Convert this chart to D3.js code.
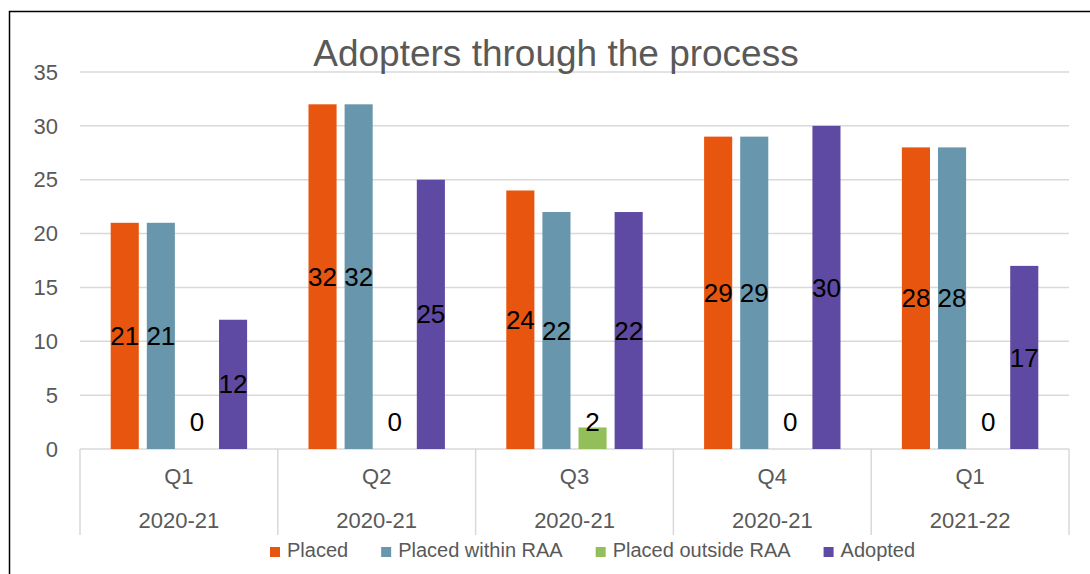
<!DOCTYPE html>
<html>
<head>
<meta charset="utf-8">
<script src="https://cdn.jsdelivr.net/npm/d3@7"></script>
<style>
    body { margin: 0; background: #fff; }
    text { font-family: "Liberation Sans", Arial, sans-serif; }
</style>
</head>
<body>
<svg id="Chart"></svg>
<script>
    // chart data
    let quarters = ["Q1", "Q2", "Q3", "Q4", "Q1"];
    let years = ["2020-21", "2020-21", "2020-21", "2020-21", "2021-22"];
    let seriesNames = ["Placed", "Placed within RAA", "Placed outside RAA", "Adopted"];
    let placed = [21, 32, 24, 29, 28];
    let placedWithin = [21, 32, 22, 29, 28];
    let placedOutside = [0, 0, 2, 0, 0];
    let adopted = [12, 25, 22, 30, 17];
    let yTicks = [0, 5, 10, 15, 20, 25, 30, 35];
    let colors = ["#E8550F", "#6896AC", "#93BF5A", "#5F4AA3"];

    function getConfig() {
        let width = 1090;
        let height = 574;
        let margin = {top: 72, bottom: 125, left: 80, right: 21};
        let container = d3.select("#Chart")
            .attr("width", width)
            .attr("height", height)
        return {width, height, margin, container}
    }

    function getScales(config) {
        let {width, height, margin} = config;
        let x0 = d3.scaleBand()
            .domain(d3.range(quarters.length))
            .range([margin.left, width - margin.right])
            .padding(0)
        let x1 = d3.scaleBand()
            .domain(seriesNames)
            .range([0, x0.bandwidth()])
            .paddingInner(0.222)
            .paddingOuter(0.85)
        let y = d3.scaleLinear()
            .domain([0, 35])
            .range([height - margin.bottom, margin.top])
        return {x0, x1, y}
    }

    function drawFrame(config) {
        config.container.append("rect")
            .attr("x", 9.5).attr("y", 11.5)
            .attr("width", 1200).attr("height", 700)
            .attr("fill", "none")
            .attr("stroke", "#000")
            .attr("stroke-width", 1.5)
    }

    function drawAxes(scales, config) {
        let {x0, y} = scales;
        let {container} = config;
        let [left, right] = x0.range();

        // horizontal gridlines (0 line doubles as the axis)
        container.append("g")
            .selectAll("line")
            .data(yTicks)
            .enter()
            .append("line")
            .attr("x1", left).attr("x2", right)
            .attr("y1", d => y(d)).attr("y2", d => y(d))
            .attr("stroke", "#D9D9D9")
            .attr("stroke-width", 1.5)

        container.append("g")
            .selectAll("text")
            .data(yTicks)
            .enter()
            .append("text")
            .attr("x", 58)
            .attr("y", d => y(d))
            .attr("dy", "0.35em")
            .attr("text-anchor", "end")
            .attr("fill", "#595959")
            .style("font-size", "22px")
            .text(d => d)

        // category separators
        let edges = d3.range(quarters.length + 1).map(i => left + i * x0.step());
        container.append("g")
            .selectAll("line")
            .data(edges)
            .enter()
            .append("line")
            .attr("x1", d => d).attr("x2", d => d)
            .attr("y1", y(0)).attr("y2", y(0) + 86)
            .attr("stroke", "#D9D9D9")
            .attr("stroke-width", 1.5)

        let cats = container.append("g")
            .selectAll("g")
            .data(d3.range(quarters.length))
            .enter()
            .append("g")
        cats.append("text")
            .attr("x", i => x0(i) + x0.bandwidth() / 2)
            .attr("y", y(0) + 35)
            .attr("text-anchor", "middle")
            .attr("fill", "#595959")
            .style("font-size", "22px")
            .text(i => quarters[i])
        cats.append("text")
            .attr("x", i => x0(i) + x0.bandwidth() / 2)
            .attr("y", y(0) + 79)
            .attr("text-anchor", "middle")
            .attr("fill", "#595959")
            .style("font-size", "22px")
            .text(i => years[i])
    }

    function drawBars(scales, config) {
        let {x0, x1, y} = scales;
        let {container} = config;
        let values = [placed, placedWithin, placedOutside, adopted];
        let rows = [];
        seriesNames.forEach((name, s) => {
            values[s].forEach((v, i) => rows.push({name, s, i, v}))
        })

        container.append("g")
            .selectAll("rect")
            .data(rows)
            .enter()
            .append("rect")
            .attr("x", d => x0(d.i) + x1(d.name))
            .attr("y", d => y(d.v))
            .attr("width", x1.bandwidth())
            .attr("height", d => y(0) - y(d.v))
            .attr("fill", d => colors[d.s])

        // labels sit in the middle of the bar, pushed up when the bar is too short
        container.append("g")
            .selectAll("text")
            .data(rows)
            .enter()
            .append("text")
            .attr("x", d => x0(d.i) + x1(d.name) + x1.bandwidth() / 2)
            .attr("y", d => Math.min((y(d.v) + y(0)) / 2, y(0) - 27))
            .attr("dy", "0.35em")
            .attr("text-anchor", "middle")
            .attr("fill", "#000")
            .style("font-size", "26px")
            .text(d => d.v)
    }

    function drawTitle(config) {
        config.container.append("text")
            .attr("x", 556)
            .attr("y", 66)
            .attr("text-anchor", "middle")
            .attr("fill", "#595959")
            .style("font-size", "37px")
            .text("Adopters through the process")
    }

    function drawLegend(config) {
        let legend = config.container.append("g")
        let x = 270;
        seriesNames.forEach((name, s) => {
            legend.append("rect")
                .attr("x", x).attr("y", 547)
                .attr("width", 10).attr("height", 10)
                .attr("fill", colors[s])
            let t = legend.append("text")
                .attr("x", x + 17)
                .attr("y", 557)
                .attr("fill", "#595959")
                .style("font-size", "20px")
                .text(name)
            x += 17 + t.node().getComputedTextLength() + 33;
        })
    }

    let config = getConfig();
    let scales = getScales(config);
    drawFrame(config);
    drawAxes(scales, config);
    drawBars(scales, config);
    drawTitle(config);
    drawLegend(config);
</script>
</body>
</html>
